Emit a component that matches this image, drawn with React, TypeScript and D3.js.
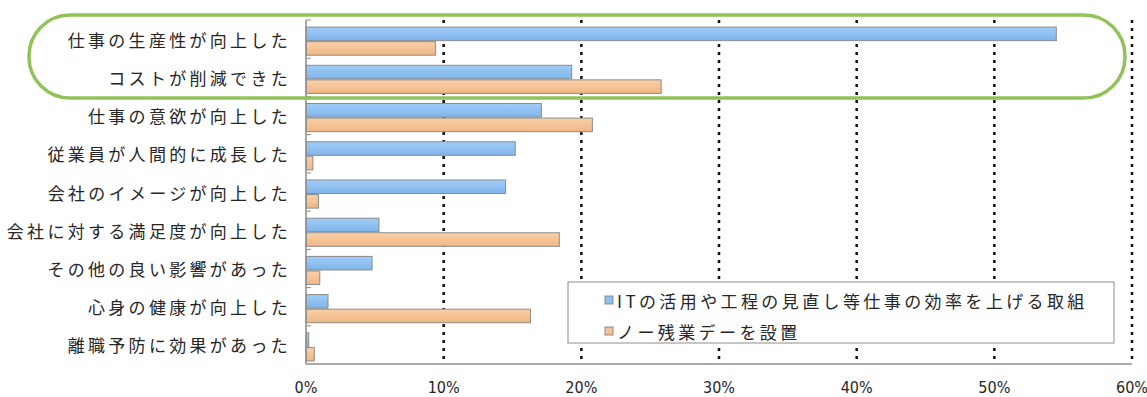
import React from "react";
import * as d3 from "d3";

const categories = [
  "仕事の生産性が向上した",
  "コストが削減できた",
  "仕事の意欲が向上した",
  "従業員が人間的に成長した",
  "会社のイメージが向上した",
  "会社に対する満足度が向上した",
  "その他の良い影響があった",
  "心身の健康が向上した",
  "離職予防に効果があった",
];

const seriesNames = [
  "ITの活用や工程の見直し等仕事の効率を上げる取組",
  "ノー残業デーを設置",
];

const itValues = [54.5, 19.3, 17.1, 15.2, 14.5, 5.3, 4.8, 1.6, 0.2];
const noOvertimeValues = [9.4, 25.8, 20.8, 0.5, 0.9, 18.4, 1.0, 16.3, 0.6];

const xTicks = [0, 10, 20, 30, 40, 50, 60];

const W = 1147;
const H = 397;
const left = 306;
const right = 1132;
const top = 20;
const bottom = 364;

export default function App() {
  const x = d3.scaleLinear().domain([0, 60]).range([left, right]);
  const y = d3.scaleBand().domain(categories).range([top, bottom]).padding(0);
  const bw = y.bandwidth();
  const barH = bw * 0.355;
  const off1 = bw * 0.185;
  const off2 = off1 + barH + 1;

  const series = [
    { name: seriesNames[0], values: itValues, grad: "gBlue", swatch: "#8dbff2" },
    { name: seriesNames[1], values: noOvertimeValues, grad: "gOrange", swatch: "#f6c295" },
  ];

  const labelFont = "'Noto Sans CJK JP', 'Noto Sans', sans-serif";

  return (
    <svg
      width={W}
      height={H}
      style={{ position: "absolute", left: 0, top: 0, display: "block", background: "#fff" }}
    >
      <defs>
        <linearGradient id="gBlue" x1="0" y1="0" x2="0" y2="1">
          <stop offset="0%" stopColor="#9fcdf8" />
          <stop offset="100%" stopColor="#80b4ea" />
        </linearGradient>
        <linearGradient id="gOrange" x1="0" y1="0" x2="0" y2="1">
          <stop offset="0%" stopColor="#fad0a8" />
          <stop offset="100%" stopColor="#f0b784" />
        </linearGradient>
      </defs>

      {/* dotted vertical gridlines */}
      {xTicks.slice(1).map((t) => (
        <line
          key={"g" + t}
          x1={x(t)}
          x2={x(t)}
          y1={top}
          y2={bottom}
          stroke="#111"
          strokeWidth={2.5}
          strokeDasharray="3,5"
        />
      ))}

      {/* bars */}
      {categories.map((c, i) =>
        series.map((s, k) => (
          <rect
            key={c + k}
            x={x(0)}
            y={(y(c) as number) + (k === 0 ? off1 : off2)}
            width={x(s.values[i]) - x(0)}
            height={barH}
            fill={`url(#${s.grad})`}
            stroke="#8c8c8c"
            strokeWidth={1}
          />
        ))
      )}

      {/* y axis */}
      <line x1={left} x2={left} y1={top} y2={bottom} stroke="#8c8c8c" strokeWidth={1.5} />
      {categories.map((c) => (
        <line
          key={"t" + c}
          x1={left}
          x2={left + 5}
          y1={y(c) as number}
          y2={y(c) as number}
          stroke="#8c8c8c"
          strokeWidth={1}
        />
      ))}
      {/* x axis */}
      <line x1={left} x2={right} y1={bottom} y2={bottom} stroke="#8c8c8c" strokeWidth={1.5} />

      {/* category labels */}
      {categories.map((c) => (
        <text
          key={"l" + c}
          x={291}
          y={(y(c) as number) + bw / 2}
          textAnchor="end"
          dominantBaseline="central"
          fontFamily={labelFont}
          fontSize={17}
          letterSpacing={3.3}
          fill="#262626"
        >
          {c}
        </text>
      ))}

      {/* x tick labels */}
      {xTicks.map((t) => (
        <text
          key={"x" + t}
          x={x(t)}
          y={387}
          textAnchor="middle"
          dominantBaseline="central"
          fontFamily="'Liberation Sans Narrow', 'DejaVu Sans Condensed', sans-serif"
          fontStretch="condensed"
          fontSize={16}
          fill="#262626"
        >
          {t}%
        </text>
      ))}

      {/* legend */}
      <rect x={568} y={282} width={546} height={61} fill="#fff" stroke="#8c8c8c" strokeWidth={1} />
      {series.map((s, k) => (
        <g key={"lg" + k} transform={`translate(605, ${300 + k * 31})`}>
          <rect x={0} y={-4} width={8} height={8} fill={s.swatch} stroke="#8c8c8c" strokeWidth={1} />
          <text
            x={12}
            y={0}
            dominantBaseline="central"
            fontFamily={labelFont}
            fontSize={17}
            letterSpacing={3.4}
            fill="#262626"
          >
            {s.name}
          </text>
        </g>
      ))}

      {/* highlight frame around the top two items */}
      <rect
        x={29}
        y={15}
        width={1096}
        height={83}
        rx={41}
        ry={41}
        fill="none"
        stroke="#93c25b"
        strokeWidth={3.5}
      />
    </svg>
  );
}
